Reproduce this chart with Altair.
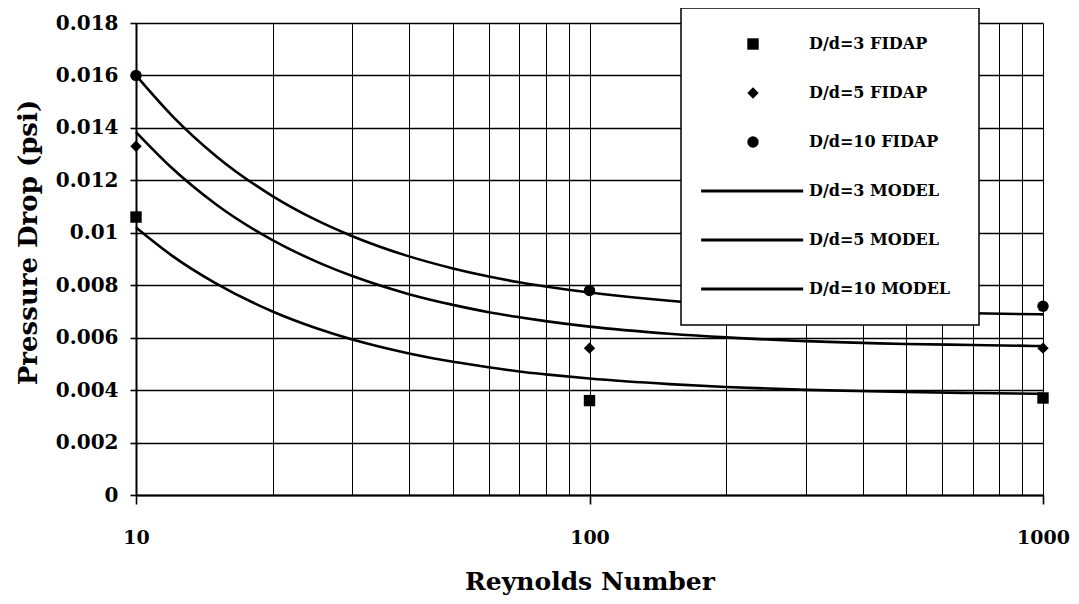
import altair as alt
import pandas as pd

# ---- data ----
re_points = [10, 100, 1000]
fidap_3 = [0.0106, 0.0036, 0.0037]
fidap_5 = [0.0133, 0.0056, 0.0056]
fidap_10 = [0.0160, 0.0078, 0.0072]

re_model = [10, 12, 15, 20, 25, 30, 40, 50, 60, 70, 80, 100, 150, 200, 300, 500, 700, 1000]
model_3 = [0.01020, 0.00913, 0.00807, 0.00700, 0.00636, 0.00593, 0.00540, 0.00508, 0.00487,
           0.00471, 0.00460, 0.00444, 0.00423, 0.00412, 0.00401, 0.00393, 0.00389, 0.00386]
model_5 = [0.01384, 0.01247, 0.01109, 0.00972, 0.00890, 0.00835, 0.00766, 0.00725, 0.00697,
           0.00678, 0.00663, 0.00642, 0.00615, 0.00601, 0.00587, 0.00576, 0.00572, 0.00568]
model_10 = [0.01600, 0.01447, 0.01293, 0.01140, 0.01048, 0.00987, 0.00910, 0.00864, 0.00833,
            0.00811, 0.00795, 0.00772, 0.00741, 0.00726, 0.00711, 0.00698, 0.00693, 0.00689]

series_names = ["D/d=3 FIDAP", "D/d=5 FIDAP", "D/d=10 FIDAP",
                "D/d=3 MODEL", "D/d=5 MODEL", "D/d=10 MODEL"]

x_grid_values = [10, 20, 30, 40, 50, 60, 70, 80, 90,
                 100, 200, 300, 400, 500, 600, 700, 800, 900, 1000]
y_tick_values = [0, 0.002, 0.004, 0.006, 0.008, 0.01, 0.012, 0.014, 0.016, 0.018]

# ---- tables ----
pts = pd.DataFrame(
    [{"Re": r, "dp": v, "series": series_names[0]} for r, v in zip(re_points, fidap_3)]
    + [{"Re": r, "dp": v, "series": series_names[1]} for r, v in zip(re_points, fidap_5)]
    + [{"Re": r, "dp": v, "series": series_names[2]} for r, v in zip(re_points, fidap_10)]
)
mod = pd.DataFrame(
    [{"Re": r, "dp": v, "series": series_names[3]} for r, v in zip(re_model, model_3)]
    + [{"Re": r, "dp": v, "series": series_names[4]} for r, v in zip(re_model, model_5)]
    + [{"Re": r, "dp": v, "series": series_names[5]} for r, v in zip(re_model, model_10)]
)

FONT = "DejaVu Serif"
LINE_PATH = "M-9.1,-0.25L8.8,-0.25L8.8,0.25L-9.1,0.25Z"
DECADE = "datum.value == 10 || datum.value == 100 || datum.value == 1000"

x_enc = alt.X(
    "Re:Q",
    scale=alt.Scale(type="log", domain=[10, 1000], nice=False),
    axis=alt.Axis(
        title="Reynolds Number",
        values=x_grid_values,
        labelExpr="(" + DECADE + ") ? format(datum.value, 'd') : ''",
        labelOverlap=False,
        labelFlush=False,
        tickOpacity={"condition": {"test": DECADE, "value": 1}, "value": 0},
        tickSize=9,
        labelPadding=24,
        titlePadding=22,
        gridWidth=1,
    ),
)
y_enc = alt.Y(
    "dp:Q",
    scale=alt.Scale(domain=[0, 0.018], nice=False),
    axis=alt.Axis(
        title="Pressure Drop (psi)",
        values=y_tick_values,
        format="~f",
        tickSize=6,
        labelPadding=12,
        titlePadding=14,
        titleY=219,
        gridWidth=1.6,
    ),
)

lines = alt.Chart(mod).mark_line(color="black", strokeWidth=2.6, interpolate="monotone").encode(
    x=x_enc, y=y_enc, detail="series:N"
)

points = alt.Chart(pts).mark_point(filled=True, size=130, color="black", opacity=1).encode(
    x=x_enc,
    y=y_enc,
    shape=alt.Shape(
        "series:N",
        scale=alt.Scale(domain=series_names,
                        range=["square", "diamond", "circle", LINE_PATH, LINE_PATH, LINE_PATH]),
        legend=alt.Legend(
            title=None,
            orient="none",
            legendX=545,
            legendY=-15,
            fillColor="white",
            strokeColor="black",
            padding=28,
            rowPadding=33,
            symbolOffset=36,
            labelOffset=48,
            symbolSize=130,
            symbolFillColor="black",
            symbolStrokeWidth=0,
            labelFont=FONT,
            labelFontWeight="bold",
            labelFontSize=16,
            labelColor="black",
            labelLimit=400,
        ),
    ),
)

chart = alt.layer(lines, points).properties(
    width=907,
    height=472,
    autosize=alt.AutoSizeParams(type="none"),
    padding={"left": 128, "top": 15, "right": 28, "bottom": 100},
).configure_view(strokeWidth=0).configure_axis(
    labelFont=FONT,
    labelFontWeight="bold",
    labelColor="black",
    titleFont=FONT,
    titleFontWeight="bold",
    titleColor="black",
    domainColor="black",
    domainWidth=2,
    tickColor="black",
    tickWidth=1.6,
    gridColor="black",
    gridOpacity=1,
).configure_axisX(
    labelFontSize=19, titleFontSize=25
).configure_axisY(
    labelFontSize=20, titleFontSize=26
).configure_legend(strokeWidth=1.5)

chart.save("out.html", embed_options={"renderer": "svg", "actions": False})
